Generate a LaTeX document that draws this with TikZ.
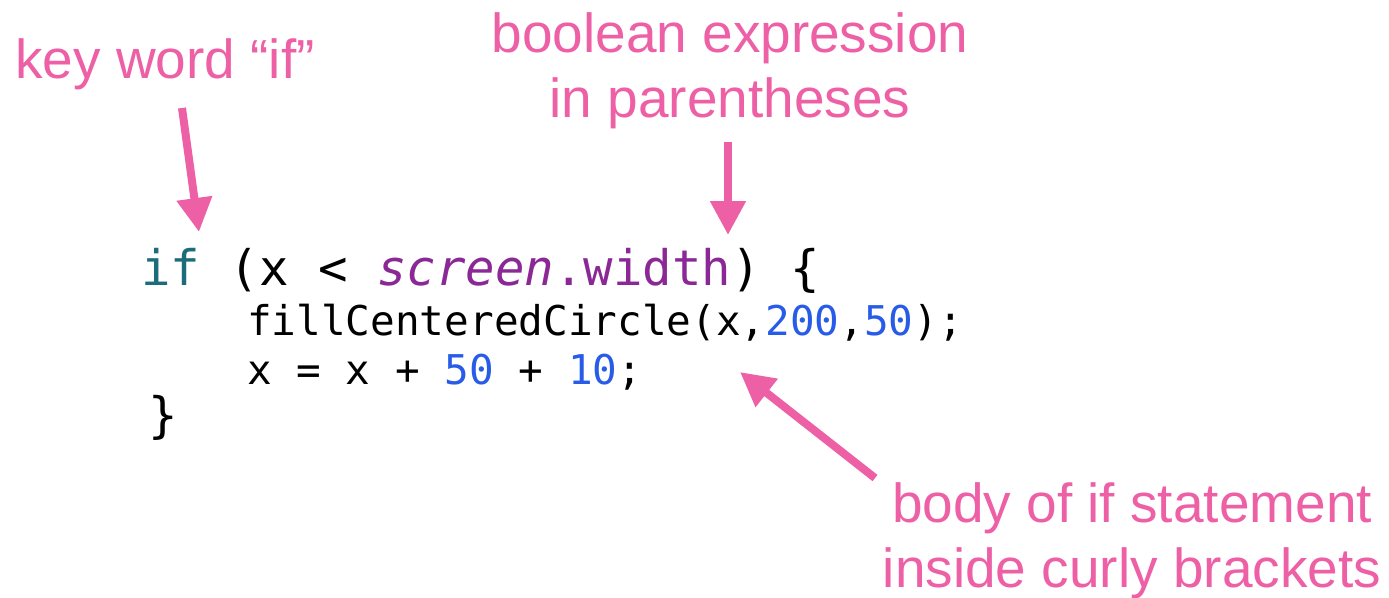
\documentclass[tikz,border=0pt]{standalone}
\usepackage{fontspec}
\setmainfont{Liberation Sans}
\newfontfamily\codefont{DejaVu Sans Mono}
\usetikzlibrary{arrows.meta}
\definecolor{pinkc}{RGB}{238,96,166}
\definecolor{kwteal}{RGB}{28,108,122}
\definecolor{purp}{RGB}{138,40,150}
\definecolor{numb}{RGB}{40,92,232}
\tikzset{
  lbl/.style={text=pinkc, inner sep=0pt, font=\fontsize{55}{65}\selectfont},
  codebig/.style={inner sep=0pt, anchor=base west, font=\codefont\fontsize{49}{49}\selectfont},
  codesmall/.style={inner sep=0pt, anchor=base west, font=\codefont\fontsize{41}{41}\selectfont},
  arr/.style={draw=pinkc, line width=8pt, -{Triangle[length=34pt,width=34pt]}}
}
\begin{document}
\begin{tikzpicture}[x=1pt,y=-1pt]
\useasboundingbox (0,0) rectangle (1389,597);
% labels
\node[lbl, anchor=base west] (kw) at (15,78) {key word “if”};
\node[lbl, anchor=base] (bool1) at (730,52) {boolean expression};
\node[lbl, anchor=base] (bool2) at (730,117) {in parentheses};
\node[lbl, anchor=base] (body1) at (1132,522) {body of if statement};
\node[lbl, anchor=base] (body2) at (1132,587) {inside curly brackets};
% code
\node[codebig] (line1) at (141,285) {\textcolor{kwteal}{if} (x < \textcolor{purp}{\textit{screen}.width}) \{};
\node[codesmall] (line2) at (247,335) {fillCenteredCircle(x,\textcolor{numb}{200},\textcolor{numb}{50});};
\node[codesmall] (line3) at (247,384) {x = x + \textcolor{numb}{50} + \textcolor{numb}{10};};
\node[codebig] (close) at (148,432) {\}};
% arrows
\coordinate (a1t) at (182,108);
\coordinate (a1h) at (199,232);
\coordinate (a2t) at (728,142);
\coordinate (a2h) at (728,235);
\coordinate (a3t) at (875,478);
\coordinate (a3h) at (740,372);
\draw[arr] (a1t) -- (a1h);
\draw[arr] (a2t) -- (a2h);
\draw[arr] (a3t) -- (a3h);
\end{tikzpicture}
\end{document}
